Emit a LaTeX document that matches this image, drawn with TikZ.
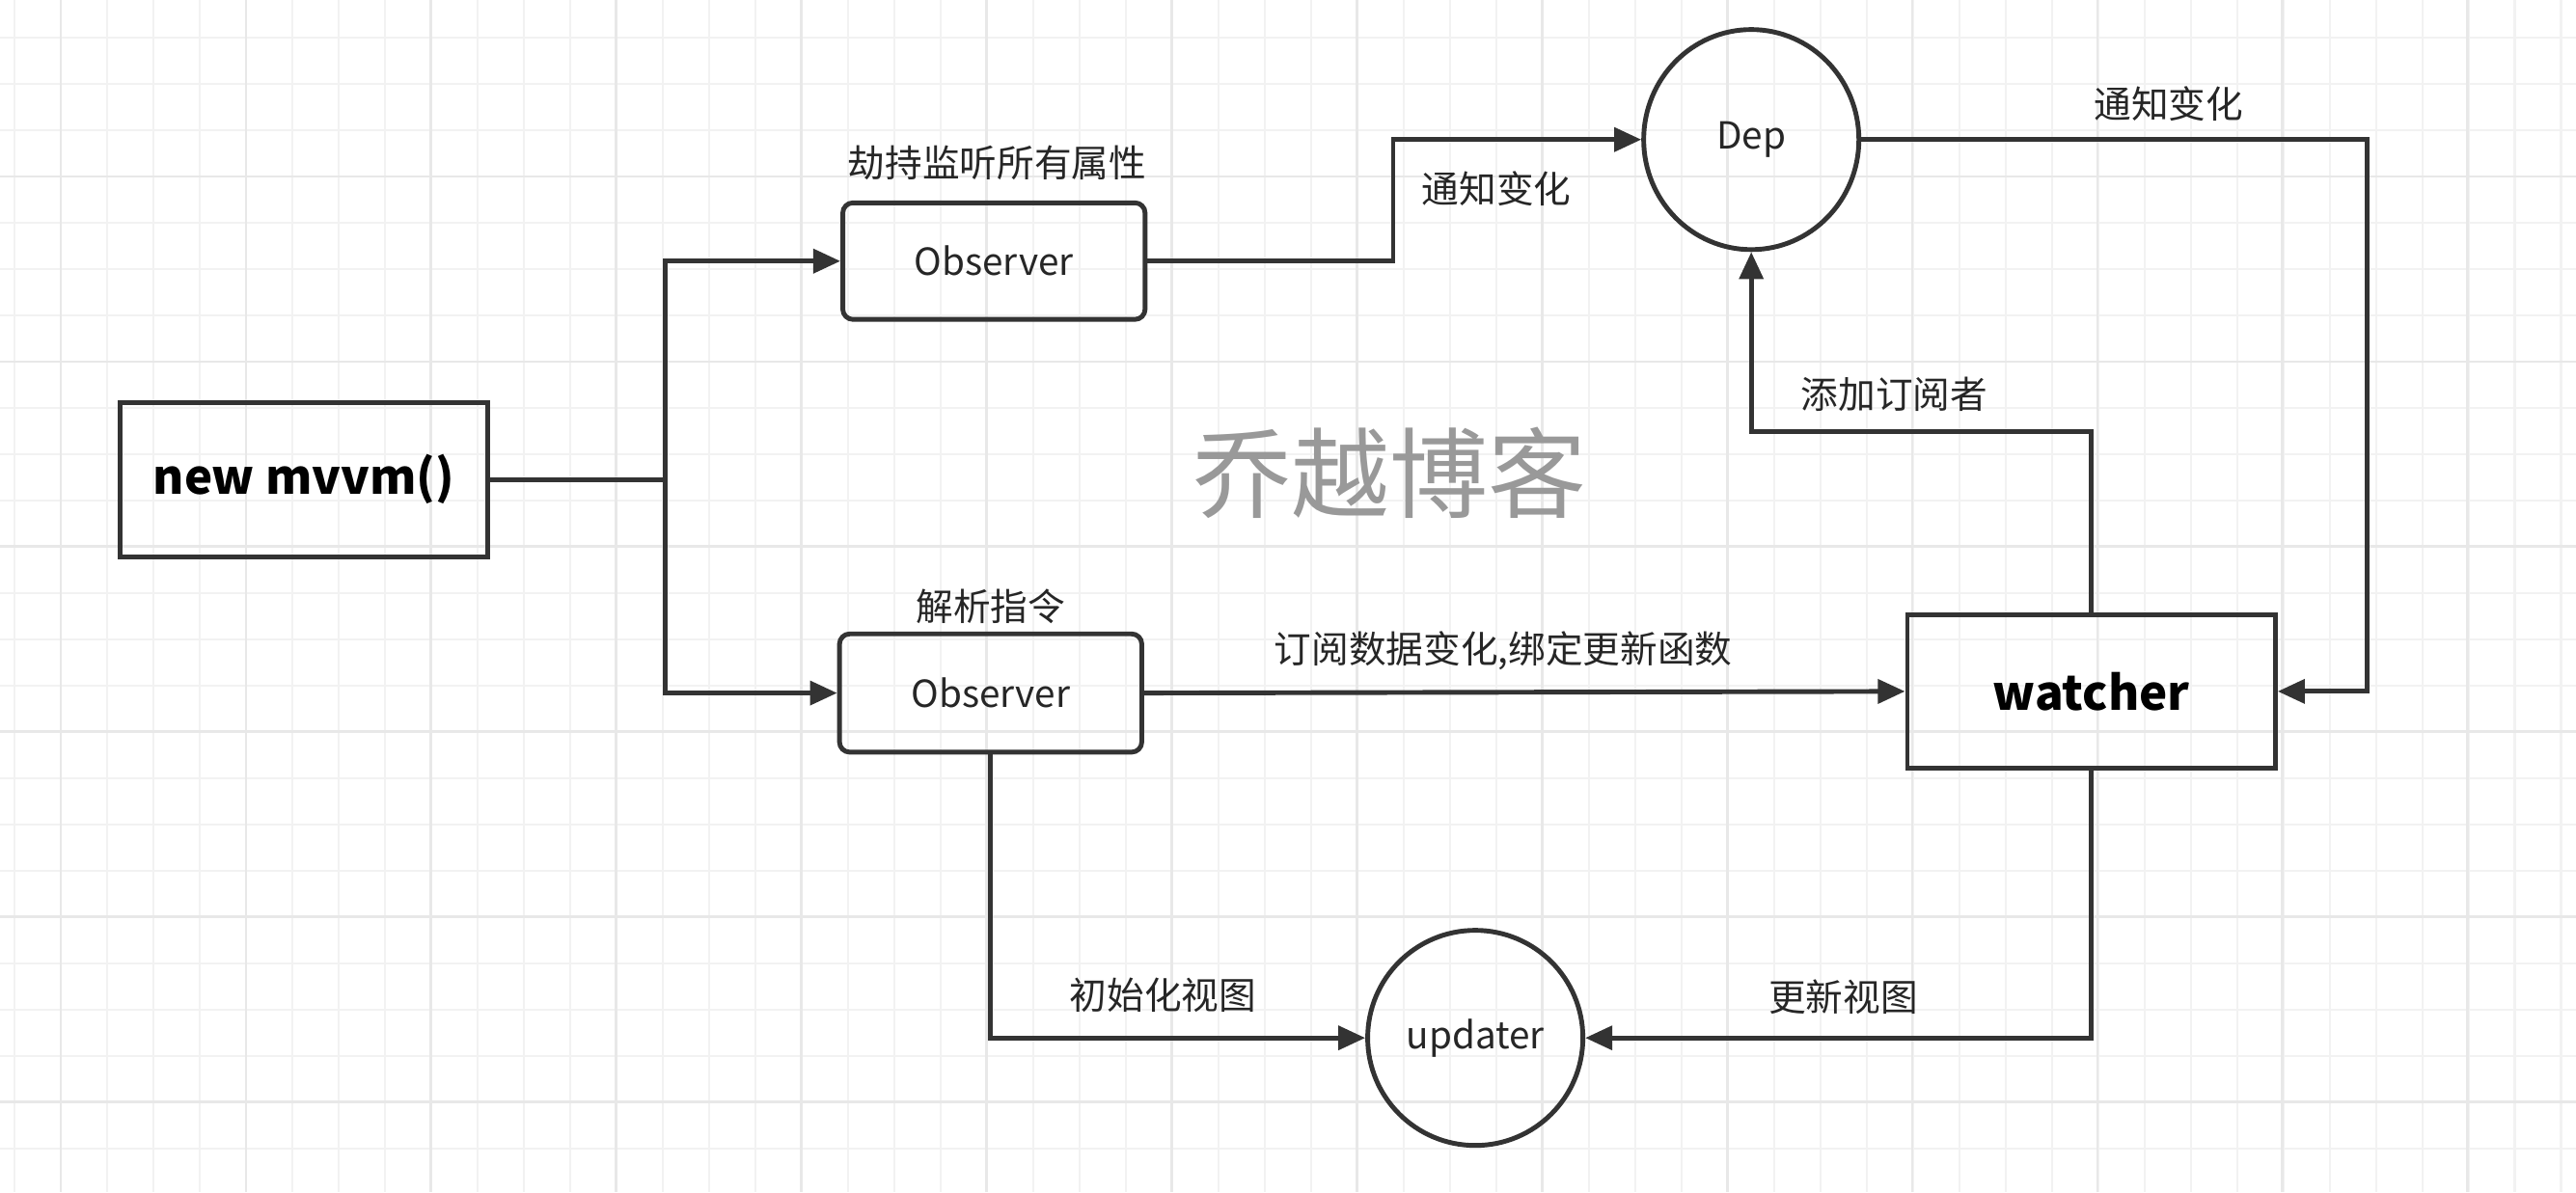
\documentclass[tikz,border=0pt]{standalone}
\usepackage{fontspec}
\setmainfont{Noto Sans CJK SC}
\usetikzlibrary{arrows.meta,shapes.geometric}
\tikzset{
	flow/.style={line width=1.4pt, draw=black!80, -{Triangle[length=8pt,width=7pt]}},
	box/.style={draw=black!80, line width=1.4pt, inner sep=0pt},
	lbl/.style={font=\fontsize{11}{13}\selectfont, text=black!85},
}
\begin{document}
\begin{tikzpicture}[x=0.01703cm,y=-0.01703cm]
		\useasboundingbox (0,0) rectangle (1568,726);
		% grid
		\foreach \i in {0,...,55} {
			\draw [black!5, line width=0.6pt] ({9+28.18*\i},0) -- ({9+28.18*\i},726);
		}
		\foreach \j in {0,...,25} {
			\draw [black!5, line width=0.6pt] (0,{23+28.18*\j}) -- (1568,{23+28.18*\j});
		}
		\foreach \i in {0,...,13} {
			\draw [black!9, line width=0.8pt] ({37+112.7*\i},0) -- ({37+112.7*\i},726);
		}
		\foreach \j in {0,...,6} {
			\draw [black!9, line width=0.8pt] (0,{107.5+112.7*\j}) -- (1568,{107.5+112.7*\j});
		}
		\node [lbl, text=black!40, font=\fontsize{29}{32}\selectfont] (wm) at (846,288) {乔越博客};
		% nodes
		\node [box, minimum width=224*0.01703cm, minimum height=94*0.01703cm, font=\bfseries\fontsize{14}{16}\selectfont] (mvvm) at (185,292) {new mvvm()};
		\node [box, rounded corners=3pt, minimum width=184*0.01703cm, minimum height=71*0.01703cm, lbl] (obs1) at (605,159) {Observer};
		\node [box, rounded corners=3pt, minimum width=184*0.01703cm, minimum height=72*0.01703cm, lbl] (obs2) at (603,422) {Observer};
		\node [box, ellipse, minimum width=131*0.01703cm, minimum height=134*0.01703cm, lbl] (dep) at (1066,85) {Dep};
		\node [box, minimum width=224*0.01703cm, minimum height=93*0.01703cm, font=\bfseries\fontsize{14}{16}\selectfont] (watch) at (1273,421) {watcher};
		\node [box, circle, minimum size=131*0.01703cm, lbl] (upd) at (898,632) {updater};
		\coordinate (fork) at (405,292);
		% connectors
		\draw [line width=1.4pt, draw=black!80] (mvvm.east) -- (fork);
		\draw [flow] (fork) |- (obs1.west);
		\draw [flow] (fork) |- (obs2.west);
		\draw [flow] (obs1.east) -| (848,120) |- (dep.west);
		\draw [flow] (dep.east) -| (1441,300) |- (watch.east);
		\draw [flow] (watch.north) |- (1150,263) -| (dep.south);
		\draw [flow] (obs2.east) -- (watch.west);
		\draw [flow] (obs2.south) |- (upd.west);
		\draw [flow] (watch.south) |- (upd.east);
		% labels
		\node [lbl] (l1) at (607,99) {劫持监听所有属性};
		\node [lbl] (l2) at (603,369) {解析指令};
		\node [lbl] (l3) at (911,115) {通知变化};
		\node [lbl] (l4) at (1320,63) {通知变化};
		\node [lbl] (l5) at (1153,240) {添加订阅者};
		\node [lbl] (l6) at (915,396) {订阅数据变化,绑定更新函数};
		\node [lbl] (l7) at (708,606) {初始化视图};
		\node [lbl] (l8) at (1122,607) {更新视图};
	\end{tikzpicture}
\end{document}
